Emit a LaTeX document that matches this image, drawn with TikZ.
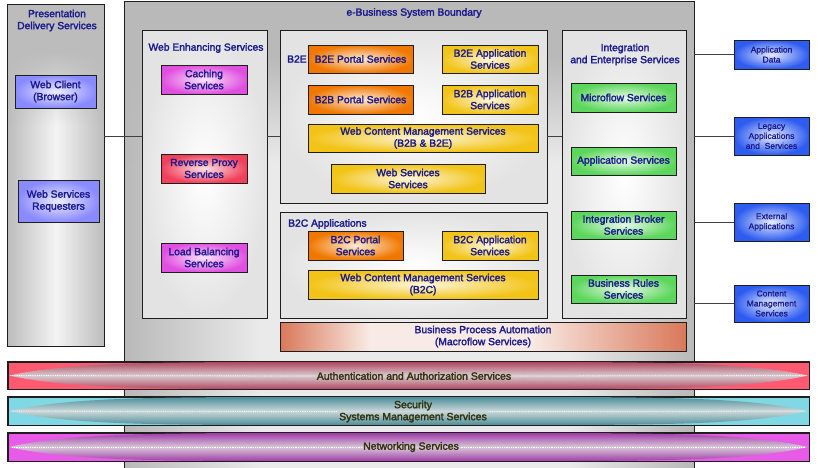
\documentclass[tikz,border=0pt]{standalone}
\usepackage{fontspec}
\setmainfont{Liberation Sans}
\newfontfamily\labelfont{Liberation Sans}[FakeBold=2.2]
\newfontfamily\bandfont{Liberation Sans}[FakeBold=2.6]
\newfontfamily\smallfont{Liberation Sans}[FakeBold=1.0]
\usetikzlibrary{fadings}

\definecolor{ink}{HTML}{1A1A8C}
\definecolor{edge}{HTML}{1E1E1E}
\definecolor{conn}{HTML}{404040}
\definecolor{bgray}{HTML}{B9B9B9}
\definecolor{blight}{HTML}{EAEAEA}
\definecolor{pgray}{HTML}{BCBCBC}
\definecolor{plight}{HTML}{F4F4F4}
\definecolor{panelout}{HTML}{E3E3E3}
\definecolor{bluebox}{HTML}{8A8AFF}
\definecolor{magbox}{HTML}{E050E0}
\definecolor{redbox}{HTML}{F0405A}
\definecolor{orangebox}{HTML}{F07800}
\definecolor{yellowbox}{HTML}{F2C418}
\definecolor{greenbox}{HTML}{5CD65C}
\definecolor{bluebig}{HTML}{2E5CF0}
\definecolor{bpa}{HTML}{D9785A}
\definecolor{bpalight}{HTML}{F8EAE4}
\definecolor{authbase}{HTML}{FF5A72}
\definecolor{authedge}{HTML}{B04860}
\definecolor{authmid}{HTML}{D8CCD0}
\definecolor{secbase}{HTML}{80D8E4}
\definecolor{secedge}{HTML}{4C8E98}
\definecolor{secmid}{HTML}{CCD8DA}
\definecolor{netbase}{HTML}{E85AE8}
\definecolor{netedge}{HTML}{A03CA8}
\definecolor{netmid}{HTML}{D8C8D8}
\definecolor{bandtext}{HTML}{33330F}

% shadings map their 25bp..75bp range onto the shaded path
\pgfdeclarehorizontalshading{boundshade}{100bp}{color(0bp)=(bgray); color(25bp)=(bgray); color(37bp)=(blight); color(64bp)=(blight); color(75bp)=(bgray); color(100bp)=(bgray)}
\pgfdeclarehorizontalshading{presshade}{100bp}{color(0bp)=(pgray); color(25bp)=(pgray); color(50bp)=(plight); color(75bp)=(pgray); color(100bp)=(pgray)}
\pgfdeclarehorizontalshading{bpashade}{100bp}{color(0bp)=(bpa); color(25bp)=(bpa); color(36bp)=(bpalight); color(56bp)=(bpalight); color(75bp)=(bpa); color(100bp)=(bpa)}
% clear at the top, opaque further down
\pgfdeclareverticalshading{topclearshade}{100bp}{color(0bp)=(pgftransparent!0); color(61bp)=(pgftransparent!0); color(73bp)=(pgftransparent!100); color(100bp)=(pgftransparent!100)}
\pgfdeclarefading{topclear}{\pgfuseshading{topclearshade}}

\tikzset{
  lbl/.style={text=ink, font=\labelfont\fontsize{10.3}{12}\selectfont, align=center, inner sep=0pt},
  small/.style={text=ink, font=\smallfont\fontsize{8.5}{10}\selectfont, align=center, inner sep=0pt},
  frame/.style={draw=edge, line width=0.9pt},
  svc/.style={frame, shading=radial, inner color=#1!15, outer color=#1, lbl},
  bigsvc/.style={frame, shading=radial, inner color=#1!12, outer color=#1, small},
  panelbox/.style={frame, shading=radial, inner color=white, outer color=panelout, inner sep=0pt},
  band/.style={frame, fill=#1, inner sep=0pt, minimum width=801, minimum height=28},
  bandlbl/.style={text=bandtext, font=\bandfont\fontsize{10.5}{12}\selectfont, align=center, inner sep=1.5pt},
  dotline/.style={white, densely dotted, line width=0.8pt},
  link/.style={draw=conn, line width=0.9pt}
}

\begin{document}
\begin{tikzpicture}[x=1pt,y=-1pt]
\useasboundingbox (0,0) rectangle (818,467);
\clip (0,0) rectangle (818,467);
\fill[white] (0,0) rectangle (818,467);

% system boundary
\node[fill=bgray, inner sep=0pt, minimum width=569, minimum height=473] (bnd) at (409.5,238.5) {};
\shade[shading=boundshade, path fading=topclear] (bnd.west |- 0,40) rectangle (bnd.south east);
\draw[frame] (bnd.north west) rectangle (bnd.south east);
\node[lbl] (bndlbl) at (414,13) {e-Business System Boundary};

% presentation column
\node[fill=pgray, inner sep=0pt, minimum width=96, minimum height=341] (pres) at (56,175.5) {};
\shade[shading=presshade, path fading=topclear] (pres.west |- 0,40) rectangle (pres.south east);
\draw[frame] (pres.north west) rectangle (pres.south east);
\node[lbl] (preslbl) at (57,20.5) {Presentation\\Delivery Services};
\node[svc=bluebox, minimum width=81, minimum height=33] (wc) at (55.5,91.5) {Web Client\\(Browser)};
\node[svc=bluebox, minimum width=81, minimum height=42] (wsr) at (58.5,201) {Web Services\\Requesters};

% web enhancing services
\node[panelbox, minimum width=125, minimum height=288] (webenh) at (204.5,174) {};
\node[lbl] (webenhlbl) at (206,48) {Web Enhancing Services};
\node[svc=magbox, minimum width=86, minimum height=29] (cache) at (204,79.5) {Caching\\Services};
\node[svc=redbox, minimum width=86, minimum height=29] (rproxy) at (204,168.5) {Reverse Proxy\\Services};
\node[svc=magbox, minimum width=86, minimum height=29] (lbal) at (204,257.5) {Load Balancing\\Services};

% B2E / B2B applications
\node[panelbox, minimum width=267, minimum height=173] (b2e) at (413.5,116.5) {};
\node[lbl, anchor=west] (b2elbl) at (287,59) {B2E};
\node[svc=orangebox, minimum width=105, minimum height=28] (b2eport) at (360.5,59) {B2E Portal Services};
\node[svc=yellowbox, minimum width=96, minimum height=28] (b2eapp) at (490,59) {B2E Application\\Services};
\node[svc=orangebox, minimum width=105, minimum height=29] (b2bport) at (360.5,99.5) {B2B Portal Services};
\node[svc=yellowbox, minimum width=96, minimum height=29] (b2bapp) at (490,99.5) {B2B Application\\Services};
\node[svc=yellowbox, minimum width=230, minimum height=28] (wcm1) at (423,138) {Web Content Management Services\\(B2B \& B2E)};
\node[svc=yellowbox, minimum width=154, minimum height=29] (wss) at (408,178.5) {Web Services\\Services};

% B2C applications
\node[panelbox, minimum width=267, minimum height=106] (b2c) at (413.5,265) {};
\node[lbl, anchor=west] (b2clbl) at (288,224) {B2C Applications};
\node[svc=orangebox, minimum width=95, minimum height=29] (b2cport) at (355.5,245.5) {B2C Portal\\Services};
\node[svc=yellowbox, minimum width=96, minimum height=29] (b2capp) at (490,245.5) {B2C Application\\Services};
\node[svc=yellowbox, minimum width=230, minimum height=29] (wcm2) at (423,284.5) {Web Content Management Services\\(B2C)};

% business process automation
\node[frame, shading=bpashade, lbl, minimum width=406, minimum height=29] (bpa) at (483,336.5) {Business Process Automation\\(Macroflow Services)};

% integration and enterprise services
\node[panelbox, minimum width=124, minimum height=288] (integ) at (624,174) {};
\node[lbl] (integlbl) at (625,54.5) {Integration\\and Enterprise Services};
\node[svc=greenbox, minimum width=105, minimum height=29] (micro) at (623.5,97.5) {Microflow Services};
\node[svc=greenbox, minimum width=105, minimum height=28] (appsvc) at (623.5,161) {Application Services};
\node[svc=greenbox, minimum width=105, minimum height=28] (broker) at (623.5,225) {Integration Broker\\Services};
\node[svc=greenbox, minimum width=105, minimum height=28] (rules) at (623.5,289) {Business Rules\\Services};

% external resources
\node[bigsvc=bluebig, minimum width=75, minimum height=29] (appdata) at (771.5,54.5) {Application\\Data};
\node[bigsvc=bluebig, minimum width=75, minimum height=38] (legacy) at (771.5,136) {Legacy\\Applications\\and\ \ Services};
\node[bigsvc=bluebig, minimum width=75, minimum height=38] (extapp) at (771.5,222) {External\\Applications};
\node[bigsvc=bluebig, minimum width=75, minimum height=37] (cms) at (771.5,303.5) {Content\\Management\\Services};

% connectors
\coordinate (midrow) at (0,136);
\draw[link] (pres.east |- midrow) -- (webenh.west |- midrow);
\draw[link] (webenh.east |- midrow) -- (b2e.west |- midrow);
\draw[link] (b2e.east |- midrow) -- (integ.west |- midrow);
\draw[link] (bnd.east |- appdata.west) -- (appdata.west);
\draw[link] (bnd.east |- legacy.west) -- (legacy.west);
\draw[link] (bnd.east |- extapp.west) -- (extapp.west);
\draw[link] (bnd.east |- cms.west) -- (cms.west);

% cross-cutting service bands
\node[band=authbase, minimum height=27] (auth) at (408.5,375.5) {};
\node[band=secbase] (sec) at (408.5,411) {};
\node[band=netbase] (net) at (408.5,447) {};
\foreach \n/\t/\c/\b/\ec/\mc in {auth/362/375.5/389/authedge/authmid, sec/397/411/425/secedge/secmid, net/433/447/461/netedge/netmid}{
  \shade[top color=\ec, bottom color=\ec, middle color=\mc]
    (9,\c) .. controls (70,\t) and (160,\t) .. (310,\t) -- (507,\t)
    .. controls (657,\t) and (747,\t) .. (808,\c)
    .. controls (747,\b) and (657,\b) .. (507,\b) -- (310,\b)
    .. controls (160,\b) and (70,\b) .. (9,\c) -- cycle;
  \coordinate (\n-L) at (12,\c);
  \coordinate (\n-R) at (805,\c);
}
\node[bandlbl] (authtxt) at (414,376) {Authentication and Authorization Services};
\node[bandlbl] (sectxt) at (413,411.5) {Security\\Systems Management Services};
\node[bandlbl] (nettxt) at (411,447) {Networking Services};
\draw[dotline] (auth-L) -- (authtxt.west);
\draw[dotline] (authtxt.east) -- (auth-R);
\draw[dotline] (sec-L) -- (sectxt.west);
\draw[dotline] (sectxt.east) -- (sec-R);
\draw[dotline] (net-L) -- (nettxt.west);
\draw[dotline] (nettxt.east) -- (net-R);
\draw[frame] (auth.north west) rectangle (auth.south east);
\draw[frame] (sec.north west) rectangle (sec.south east);
\draw[frame] (net.north west) rectangle (net.south east);
\end{tikzpicture}
\end{document}
